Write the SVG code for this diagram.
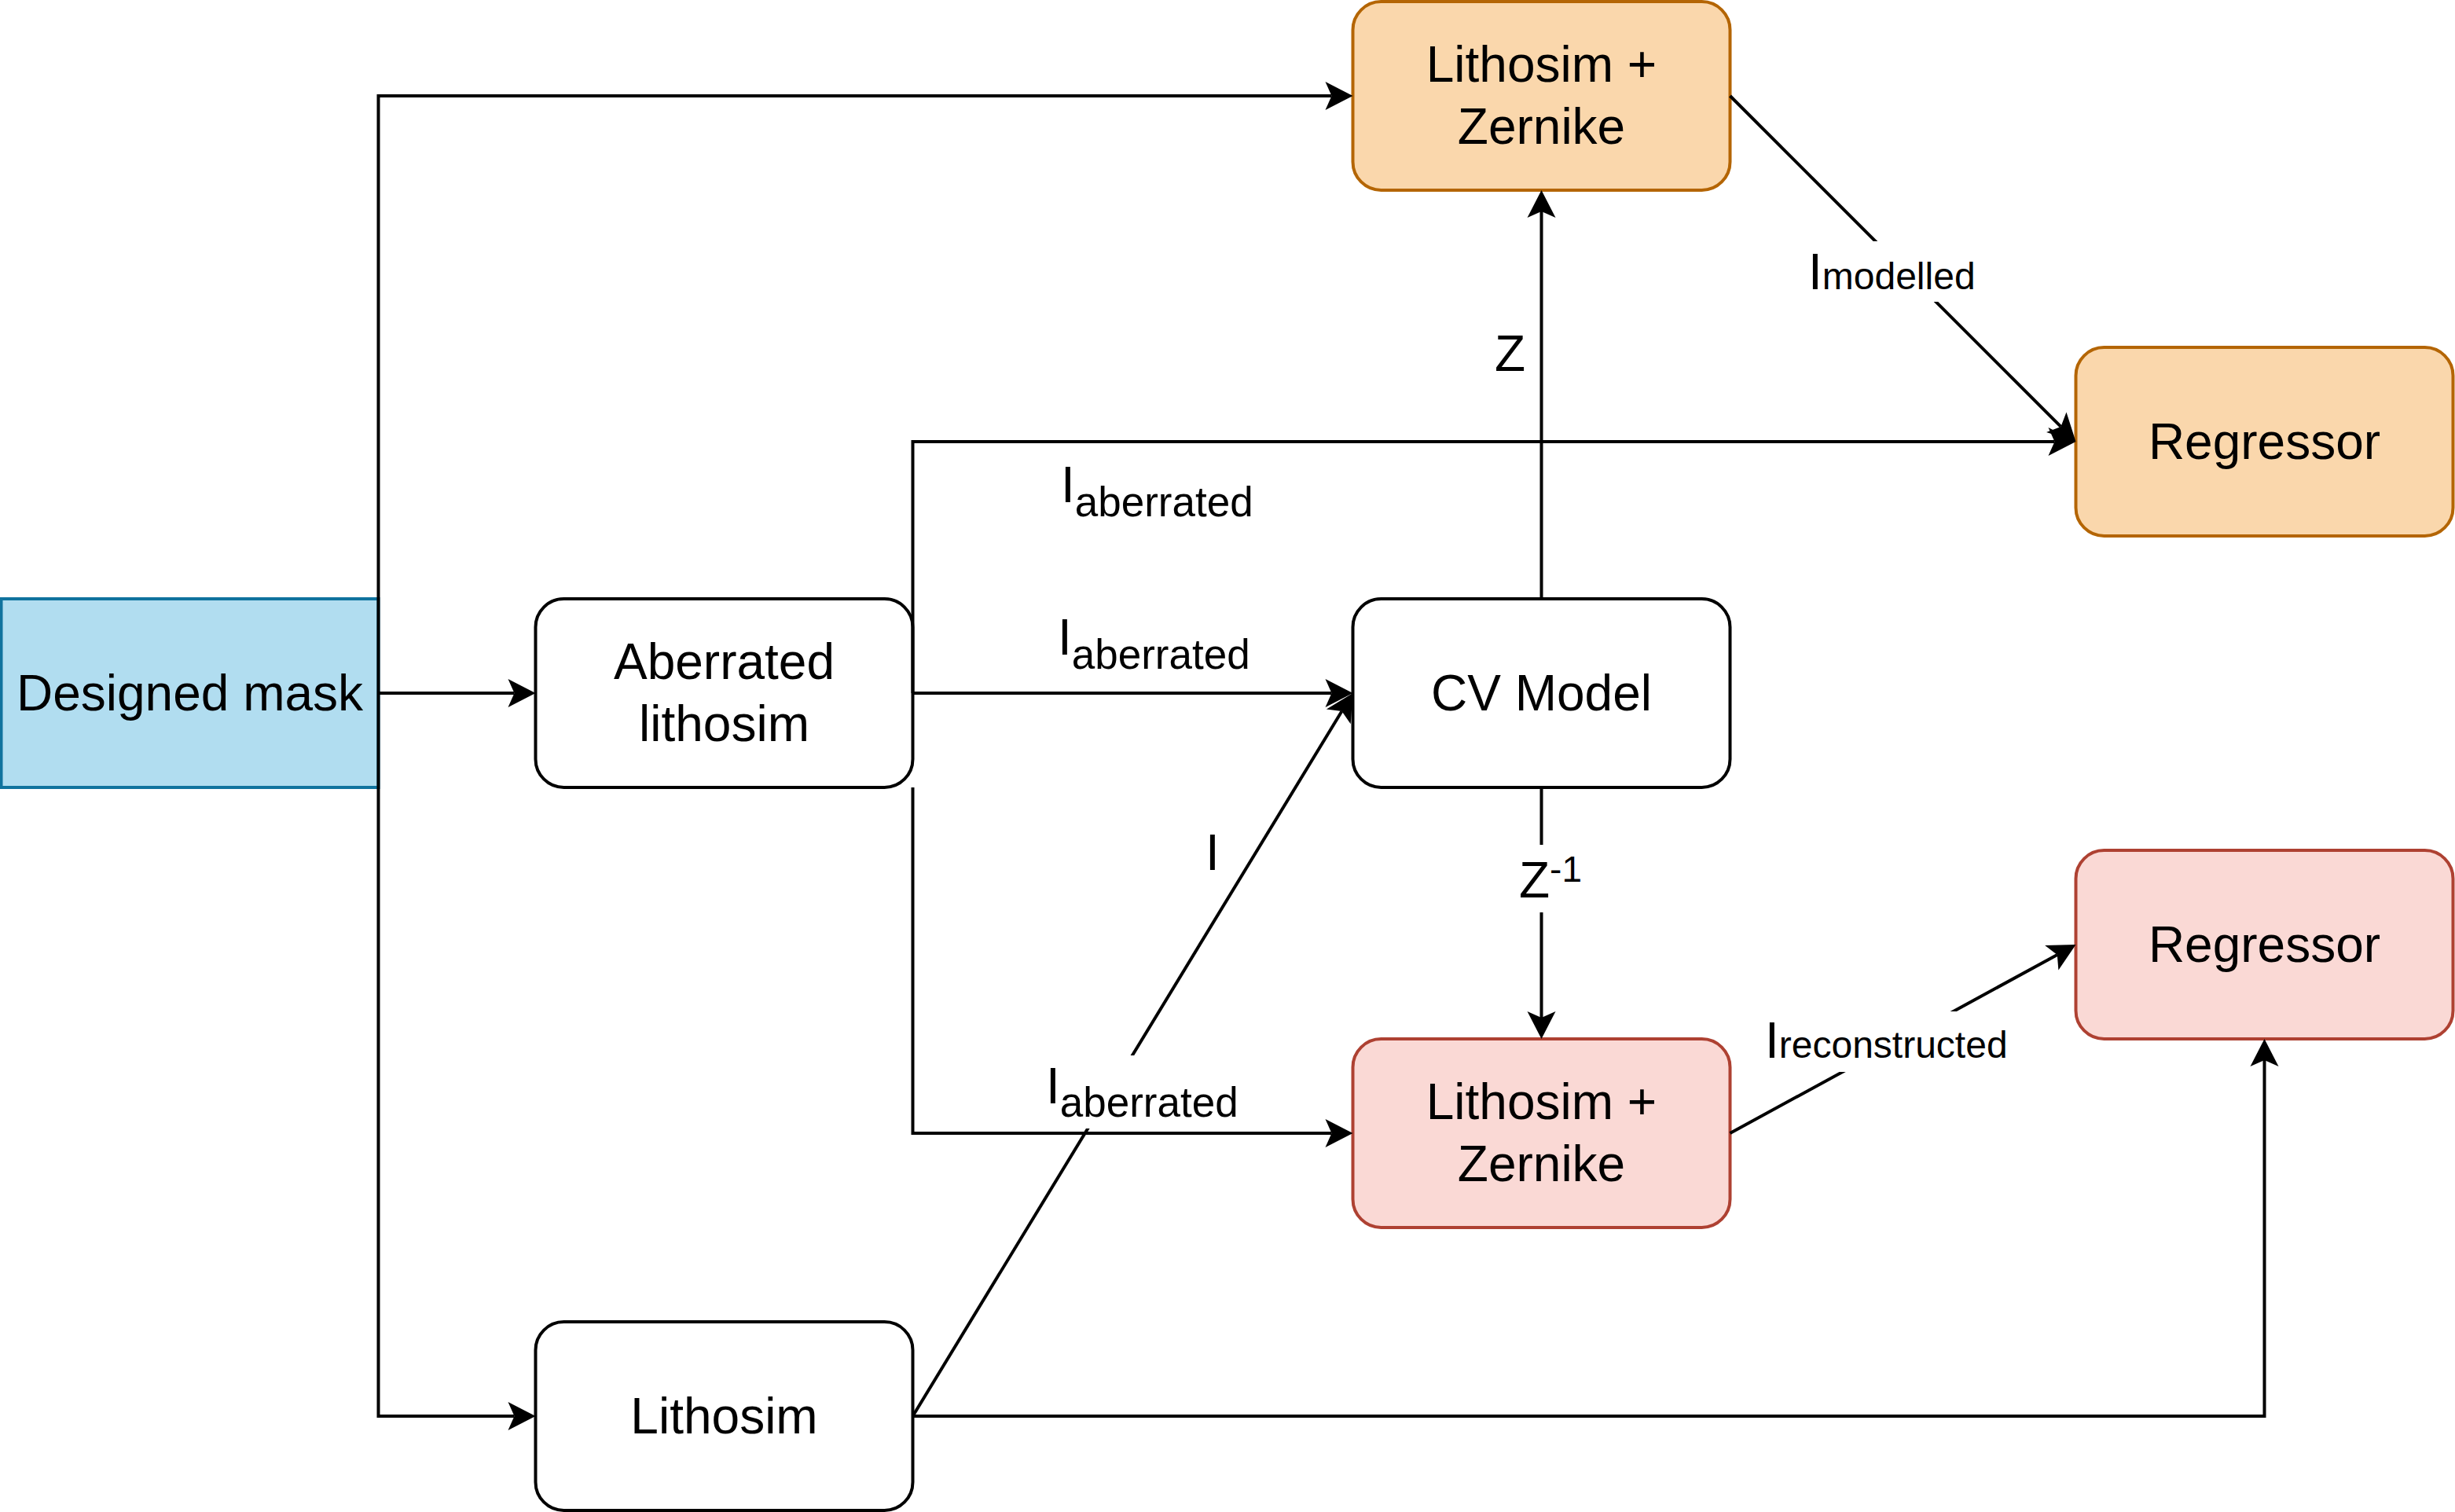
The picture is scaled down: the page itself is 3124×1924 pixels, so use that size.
<svg xmlns="http://www.w3.org/2000/svg" width="3124" height="1924" viewBox="0 0 3124 1924">
<style>
.node{stroke-width:4}
.plain{fill:#ffffff;stroke:#000000}
.blue{fill:#b1ddf0;stroke:#10739e}
.orange{fill:#fad7ac;stroke:#b46504}
.red{fill:#fad9d5;stroke:#ae4132}
.nt{font-family:"Liberation Sans",Arial,sans-serif;font-size:64px;fill:#000;text-anchor:middle}
.lbl{font-family:"Liberation Sans",Arial,sans-serif;font-size:64px;fill:#000}
.edge{fill:none;stroke:#000;stroke-width:4;marker-end:url(#arr)}
.bg{fill:#ffffff;stroke:none}
</style>
<defs>
<marker id="arr" markerUnits="userSpaceOnUse" viewBox="-10 -20 40 40" refX="0" refY="0" markerWidth="40" markerHeight="40" orient="auto">
<path d="M27,0 L-8,-18 L0,0 L-8,18 Z" fill="#000"/>
</marker>
</defs>
<rect width="3124" height="1924" fill="#ffffff"/>

<g id="designed-mask">
<rect class="node blue" x="1.5" y="762" width="480" height="240"/>
<text class="nt" x="241.5" y="904">Designed mask</text>
</g>
<g id="aberrated-lithosim">
<rect class="node plain" x="681.5" y="762" width="480" height="240" rx="36" ry="36"/>
<text class="nt" x="921.5" y="864">Aberrated</text>
<text class="nt" x="921.5" y="943">lithosim</text>
</g>
<g id="lithosim">
<rect class="node plain" x="681.5" y="1682" width="480" height="240" rx="36" ry="36"/>
<text class="nt" x="921.5" y="1824">Lithosim</text>
</g>
<g id="lithosim-zernike-top">
<rect class="node orange" x="1721.5" y="2" width="480" height="240" rx="36" ry="36"/>
<text class="nt" x="1961.5" y="104">Lithosim +</text>
<text class="nt" x="1961.5" y="183">Zernike</text>
</g>
<g id="cv-model">
<rect class="node plain" x="1721.5" y="762" width="480" height="240" rx="36" ry="36"/>
<text class="nt" x="1961.5" y="904">CV Model</text>
</g>
<g id="lithosim-zernike-bottom">
<rect class="node red" x="1721.5" y="1322" width="480" height="240" rx="36" ry="36"/>
<text class="nt" x="1961.5" y="1424">Lithosim +</text>
<text class="nt" x="1961.5" y="1503">Zernike</text>
</g>
<g id="regressor-top">
<rect class="node orange" x="2641.5" y="442" width="480" height="240" rx="36" ry="36"/>
<text class="nt" x="2881.5" y="584">Regressor</text>
</g>
<g id="regressor-bottom">
<rect class="node red" x="2641.5" y="1082" width="480" height="240" rx="36" ry="36"/>
<text class="nt" x="2881.5" y="1224">Regressor</text>
</g>

<g id="connectors">
<path class="edge" d="M481.5,882 V122 H1694.5"/>
<path class="edge" d="M481.5,882 V1802 H654.5"/>
<path class="edge" d="M481.5,882 H654.5"/>
<path class="edge" d="M1161.5,882 V562 H2614.5"/>
<path class="edge" d="M1161.5,882 H1694.5"/>
<path class="edge" d="M1161.5,1002 V1442 H1694.5"/>
<path class="edge" d="M1161.5,1802 L1707.46,905.06"/>
<path class="edge" d="M1161.5,1802 H2881.5 V1349"/>
<path class="edge" d="M1961.5,762 V269"/>
<path class="edge" d="M1961.5,1002 V1295"/>
<path class="edge" d="M2201.5,122 L2622.41,542.91"/>
<path class="edge" d="M2201.5,1442 L2617.8,1214.93"/>

<g id="edge-labels">
<text class="lbl" x="1350" y="639">I<tspan font-size="53" dy="18">aberrated</tspan></text>
<text class="lbl" x="1346" y="833">I<tspan font-size="53" dy="18">aberrated</tspan></text>
<rect class="bg" x="1333" y="1343" width="250" height="93"/>
<text class="lbl" x="1331" y="1404">I<tspan font-size="53" dy="17">aberrated</tspan></text>
<text class="lbl" x="1534" y="1107">I</text>
<text class="lbl" x="1902" y="472">Z</text>
<rect class="bg" x="1925" y="1075" width="82" height="86"/>
<text class="lbl" x="1933" y="1142" font-size="55">Z<tspan font-size="46" dy="-20">-1</tspan></text>
<rect class="bg" x="2296" y="307" width="222" height="77"/>
<text class="lbl" x="2301" y="368">I<tspan font-size="48">modelled</tspan></text>
<rect class="bg" x="2242" y="1287" width="318" height="77"/>
<text class="lbl" x="2246" y="1346">I<tspan font-size="48">reconstructed</tspan></text>
</g>
</g>
</svg>
